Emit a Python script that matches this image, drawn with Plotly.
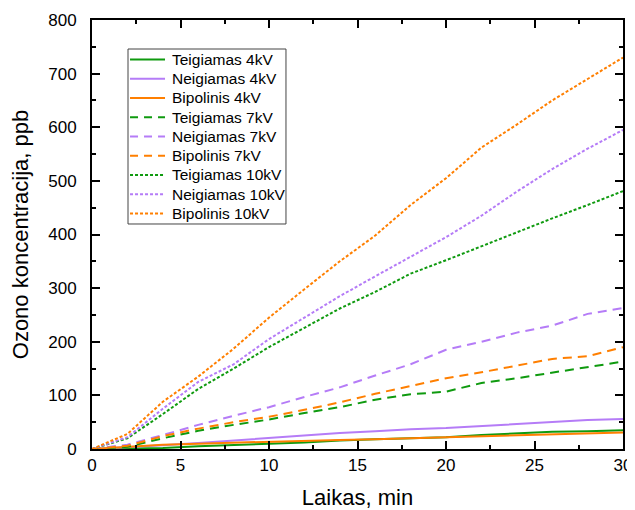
import plotly.graph_objects as go

time_min = [0, 2, 4, 6, 8, 10, 12, 14, 16, 18, 20, 22, 24, 26, 28, 30]

teig_4kV = [0, 1, 2, 5, 8, 10, 12, 16, 18, 20, 22, 26, 29, 32, 33, 35]
neig_4kV = [0, 3, 7, 11, 16, 21, 26, 30, 33, 37, 39, 43, 47, 50, 54, 56]
bip_4kV = [0, 4, 8, 10, 12, 14, 16, 17, 18, 20, 22, 24, 25, 27, 29, 31]
teig_7kV = [0, 4, 20, 34, 45, 55, 67, 78, 92, 102, 107, 123, 132, 142, 152, 163]
neig_7kV = [0, 8, 26, 45, 62, 78, 97, 115, 137, 158, 185, 200, 217, 230, 252, 263]
bip_7kV = [0, 6, 24, 38, 50, 60, 73, 87, 103, 118, 132, 143, 155, 168, 173, 190]
teig_10kV = [0, 20, 65, 112, 150, 190, 226, 262, 293, 327, 352, 378, 405, 430, 455, 481]
neig_10kV = [0, 22, 75, 125, 158, 205, 245, 285, 322, 358, 395, 435, 480, 522, 560, 595]
bip_10kV = [0, 28, 88, 135, 187, 245, 298, 350, 398, 455, 505, 562, 605, 650, 690, 730]

names = ["Teigiamas 4kV", "Neigiamas 4kV", "Bipolinis 4kV",
         "Teigiamas 7kV", "Neigiamas 7kV", "Bipolinis 7kV",
         "Teigiamas 10kV", "Neigiamas 10kV", "Bipolinis 10kV"]
series = [teig_4kV, neig_4kV, bip_4kV, teig_7kV, neig_7kV, bip_7kV,
          teig_10kV, neig_10kV, bip_10kV]

GREEN = "#0f9a0f"
PURPLE = "#b57cf7"
ORANGE = "#ff7f00"
colors = [GREEN, PURPLE, ORANGE] * 3
dashes = ["solid"] * 3 + ["9px,6px"] * 3 + ["3px,2px"] * 3
legend_dashes = ["solid"] * 3 + ["8px,6px"] * 3 + ["3px,2px"] * 3

FONT = "Liberation Sans, Arial"

fig = go.Figure()
for n, s, c, d in zip(names, series, colors, dashes):
    fig.add_trace(go.Scatter(x=time_min, y=s, name=n, mode="lines",
                             line=dict(color=c, width=2, dash=d),
                             showlegend=False))

axis_common = dict(
    showline=True, linecolor="black", linewidth=1.8, mirror="allticks",
    ticks="inside", ticklen=8, tickwidth=1.6, tickcolor="black",
    showgrid=False, zeroline=False, automargin=False,
    tickfont=dict(family=FONT, size=17, color="black"),
)

fig.update_xaxes(range=[0, 30], dtick=5, tick0=0,
                 minor=dict(ticks="inside", dtick=2.5, ticklen=4, tickwidth=1.6, tickcolor="black"),
                 title=dict(text="Laikas, min", font=dict(family=FONT, size=22, color="black")),
                 **axis_common)
fig.update_yaxes(range=[0, 800], dtick=100, tick0=0, ticklabelstandoff=10,
                 minor=dict(ticks="inside", dtick=50, ticklen=4, tickwidth=1.6, tickcolor="black"),
                 title=dict(text="Ozono koncentracija, ppb", font=dict(family=FONT, size=22, color="black")),
                 **axis_common)

# Legend box drawn in paper coordinates (Origin-style compact legend)
LEG_X0, LEG_X1 = 0.0678, 0.3653
LEG_Y0, LEG_Y1 = 0.5245, 0.9324
ROW_TOP = 0.9082
ROW_STEP = 0.04487
LINE_X0, LINE_X1 = 0.0716, 0.1375
TEXT_X = 0.1469

shapes = [dict(type="rect", xref="paper", yref="paper",
               x0=LEG_X0, x1=LEG_X1, y0=LEG_Y0, y1=LEG_Y1,
               line=dict(color="#444444", width=1), fillcolor="white", layer="above")]
annotations = []
for i, (n, c, d) in enumerate(zip(names, colors, legend_dashes)):
    yy = ROW_TOP - i * ROW_STEP
    shapes.append(dict(type="line", xref="paper", yref="paper",
                       x0=LINE_X0, x1=LINE_X1, y0=yy, y1=yy,
                       line=dict(color=c, width=2, dash=d), layer="above"))
    annotations.append(dict(xref="paper", yref="paper", x=TEXT_X, y=yy,
                            xanchor="left", yanchor="middle", showarrow=False,
                            text=n, font=dict(family=FONT, size=15.5, color="black")))

# page body has an 8px margin, so the figure is sized/offset to compensate
fig.update_layout(
    width=627, height=502,
    margin=dict(l=84, r=12, t=12, b=61),
    plot_bgcolor="white", paper_bgcolor="white",
    shapes=shapes, annotations=annotations,
    showlegend=False,
)

fig.write_html("out.html")
